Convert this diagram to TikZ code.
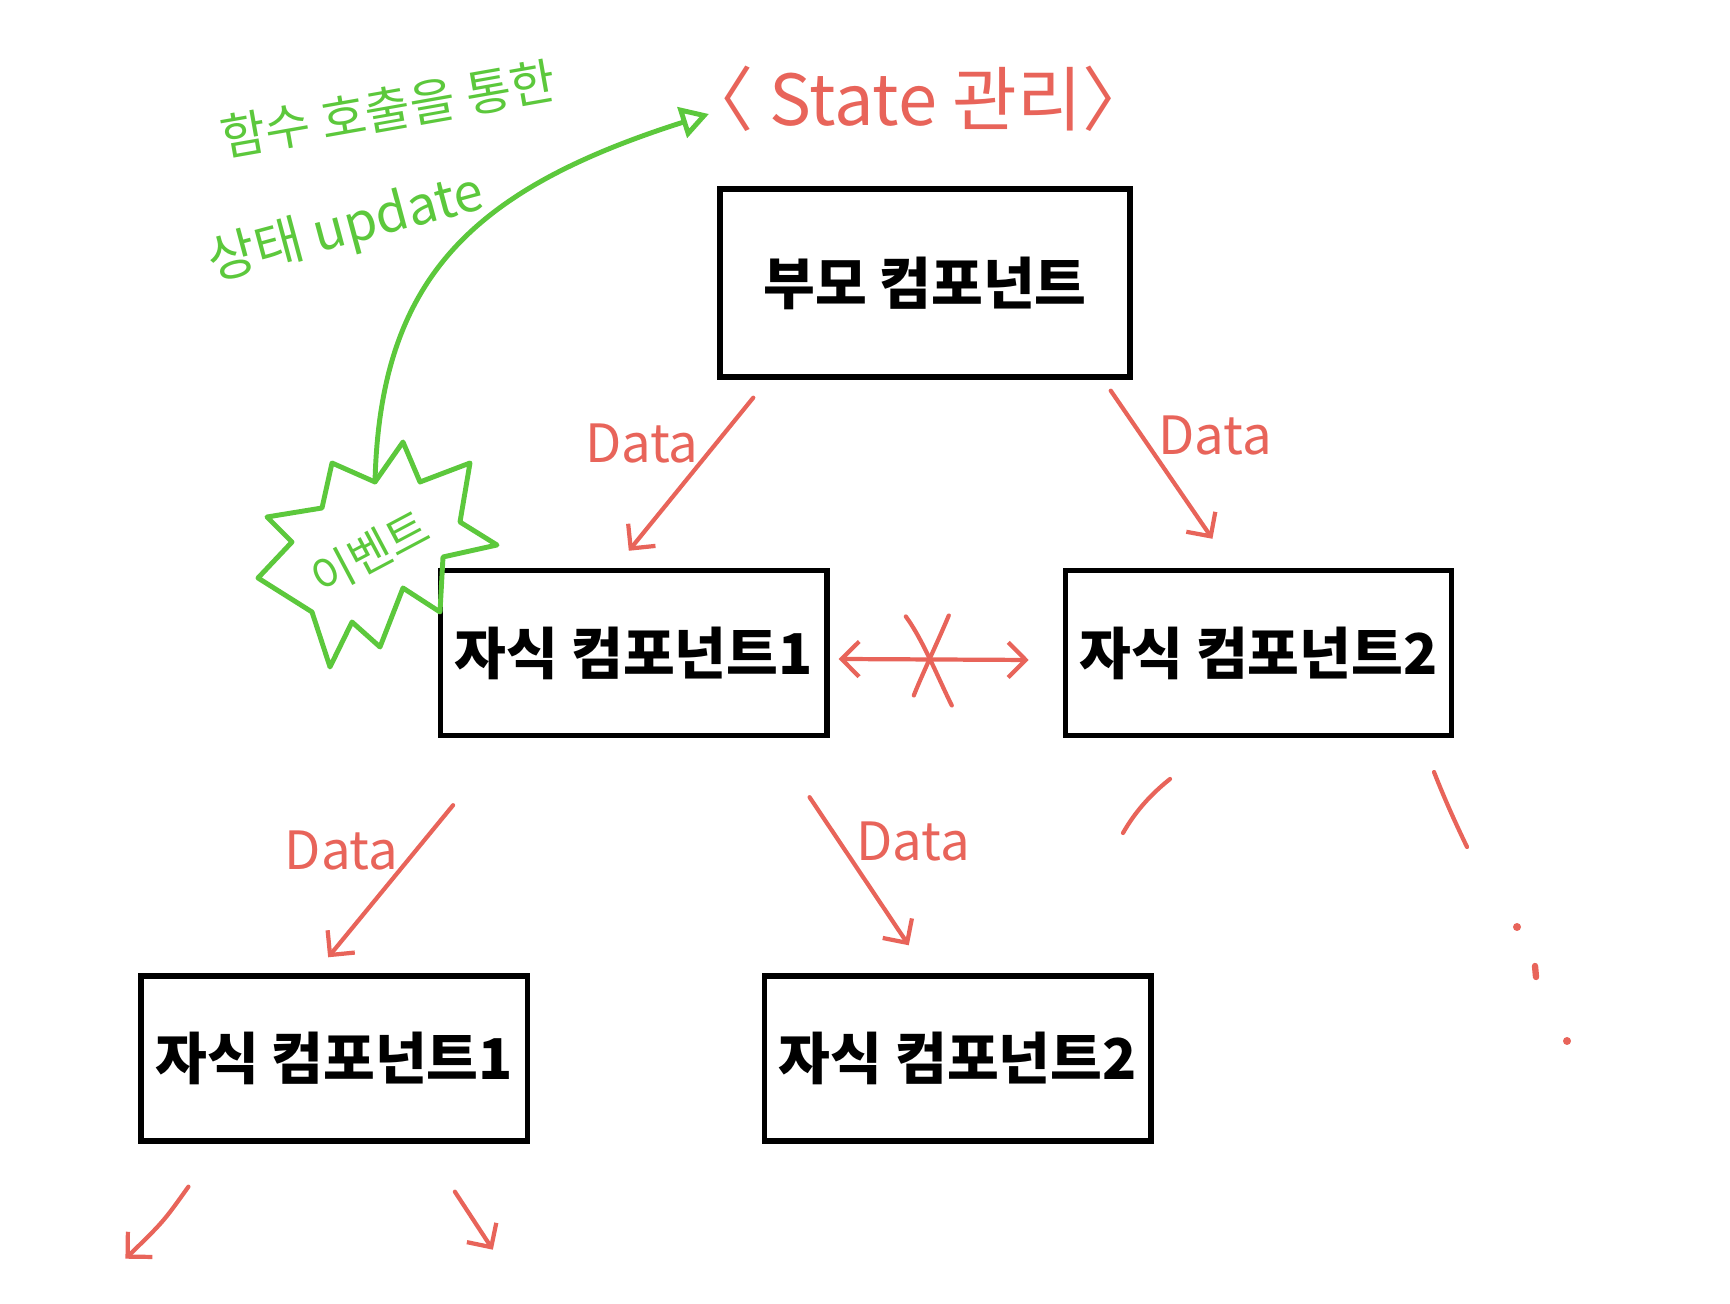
\documentclass[tikz,border=0pt]{standalone}
\usepackage{fontspec}
\setmainfont{Noto Sans CJK KR}
\usetikzlibrary{positioning,arrows.meta}
\definecolor{penred}{RGB}{232,100,90}
\definecolor{pengreen}{RGB}{92,200,60}

\begin{document}
\begin{tikzpicture}[%
	x=0.01cm, y=-0.01cm,
	comp node/.style={
		rectangle,
		draw,
		line width=1.5pt,
		minimum width=3.86cm,
		minimum height=1.65cm,
		inner sep=0pt,
		font=\fontsize{16}{19}\selectfont\bfseries,
		align=center
	},
	parent node/.style={
		comp node,
		minimum width=4.1cm,
		minimum height=1.88cm
	},
	data arrow/.style={draw=penred, line width=1.2pt, line cap=round, -{Straight Barb[length=5pt,width=10pt]}},
	data label/.style={text=penred, font=\fontsize{15}{18}\selectfont},
	red stroke/.style={draw=penred, line width=1.2pt, line cap=round},
	green stroke/.style={draw=pengreen, line width=1.4pt, line cap=round, line join=round},
	green text/.style={text=pengreen, font=\fontsize{14}{16}\selectfont},
]
	\useasboundingbox (0,0) rectangle (1730,1304);

	\node[parent node] (parent) at (925,283) {부모 컴포넌트};
	\node[comp node] (child1) [below=1.88cm of parent, xshift=-2.91cm] {자식 컴포넌트1};
	\node[comp node] (child2) [right=2.33cm of child1] {자식 컴포넌트2};
	\node[comp node] (grand1) [below=2.35cm of child1, xshift=-2.995cm] {자식 컴포넌트1};
	\node[comp node] (grand2) [right=2.32cm of grand1] {자식 컴포넌트2};

	\node[text=penred, font=\fontsize{20}{24}\selectfont] (state) at (918,99) {〈 State 관리〉};

	% data flows down
	\path
	([xshift=0.36cm,yshift=-0.18cm]parent.south west) edge[data arrow] node [data label,pos=0.3,left=1pt] {Data} ([xshift=-0.05cm,yshift=0.17cm]child1.north)
	([xshift=-0.22cm,yshift=-0.11cm]parent.south east) edge[data arrow] node [data label,pos=0.3,right=1pt] {Data} ([xshift=-0.46cm,yshift=0.29cm]child2.north)
	([xshift=0.15cm,yshift=-0.67cm]child1.south west) edge[data arrow] node [data label,pos=0.3,left=1pt] {Data} ([xshift=-0.06cm,yshift=0.16cm]grand1.north)
	([xshift=-0.2cm,yshift=-0.59cm]child1.south east) edge[data arrow] node [data label,pos=0.3,right=1pt] {Data} ([xshift=-0.49cm,yshift=0.28cm]grand2.north);

	% siblings: no direct flow
	\draw[red stroke, {Straight Barb[length=5pt,width=10pt]}-{Straight Barb[length=5pt,width=10pt]}]
	([xshift=0.09cm,yshift=-0.06cm]child1.east) -- coordinate[pos=0.485] (cut) ([xshift=-0.34cm,yshift=-0.07cm]child2.west);
	\draw[red stroke] ([shift={(-25,-43)}]cut) .. controls ([shift={(-8,-20)}]cut) and ([shift={(8,20)}]cut) .. ([shift={(21,46)}]cut);
	\draw[red stroke] ([shift={(18,-44)}]cut) .. controls ([shift={(8,-20)}]cut) and ([shift={(-10,18)}]cut) .. ([shift={(-17,36)}]cut);

	% more children
	\draw[red stroke] (1170,779) .. controls (1150,795) and (1135,812) .. (1123,833);
	\draw[red stroke] (1434,772) .. controls (1445,800) and (1455,822) .. (1467,847);
	\fill[penred] (1517,927) circle (4);
	\draw[red stroke, line width=1.8pt] (1535,966) -- (1536,977);
	\fill[penred] (1567,1041) circle (4);
	\draw[data arrow] ([xshift=0.5cm,yshift=-0.43cm]grand1.south west) .. controls ++(-25,35) .. ++(-63,72);
	\draw[data arrow] ([xshift=-0.75cm,yshift=-0.48cm]grand1.south east) -- ++(38,58);

	% event burst
	\coordinate (burst) at (375,482);
	\draw[green stroke] (403,442) -- (420,482) -- (470,463) -- (460,522) -- (497,545) -- (443,557)
		-- (440,612) -- (403,588) -- (380,647) -- (352,622) -- (330,667) -- (312,612)
		-- (258,578) -- (292,542) -- (267,517) -- (322,508) -- (332,463) -- (burst) -- cycle;
	\node[green text, font=\fontsize{13}{15}\selectfont, rotate=28] (event) at (370,553) {이벤트};

	\node[green text, rotate=10] (call) at (388,109) {함수 호출을 통한};
	\node[green text, font=\fontsize{15}{17}\selectfont, rotate=15] (update) at (346,229) {상태 update};
	\draw[green stroke, -{Triangle[open,length=8pt,width=9pt]}] (burst) .. controls (380,280) and (470,190) .. ([xshift=0.38cm,yshift=-0.15cm]state.west);
\end{tikzpicture}
\end{document}
